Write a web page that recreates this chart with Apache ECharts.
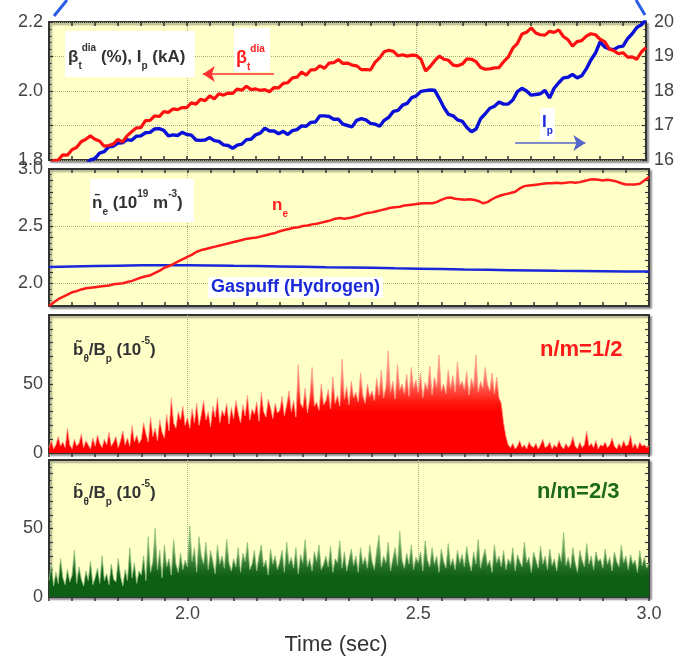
<!DOCTYPE html>
<html><head><meta charset="utf-8">
<script src="https://cdn.jsdelivr.net/npm/echarts@6/dist/echarts.min.js"></script>
<style>html,body{margin:0;padding:0;background:#fff}#c{width:677px;height:658px}</style>
</head><body><div id="c"></div><script>
// ---- data (time in s) ----
const T0 = 1.70;
const DT_LINE = 0.01;
const DT_NOISE = 0.005;
const DT_GAS = 0.05;
const IP_T0 = 1.76;
const xTickLabels = ['2.0', '2.5', '3.0'];
const xGridValues = [2.0, 2.5];
const neGridValues = [2.0, 2.5];

// beta_t^dia (%) , 1.70..3.00 every 0.01 s
const betaDia = [
 1.785,1.798,1.800,1.815,1.814,1.830,1.836,1.853,1.860,1.870,
 1.860,1.855,1.840,1.842,1.846,1.860,1.852,1.870,1.882,1.893,
 1.894,1.914,1.915,1.928,1.926,1.940,1.938,1.948,1.946,1.952,
 1.952,1.966,1.962,1.976,1.972,1.986,1.977,1.992,1.988,1.994,
 1.993,2.006,2.002,2.014,2.004,2.006,2.002,2.004,1.998,2.010,
 2.009,2.022,2.024,2.038,2.040,2.055,2.046,2.061,2.062,2.073,
 2.066,2.081,2.082,2.091,2.080,2.081,2.075,2.073,2.062,2.062,
 2.061,2.083,2.096,2.114,2.118,2.115,2.102,2.105,2.101,2.104,
 2.103,2.092,2.058,2.071,2.088,2.101,2.092,2.089,2.075,2.073,
 2.078,2.093,2.092,2.085,2.068,2.063,2.064,2.067,2.068,2.085,
 2.098,2.124,2.138,2.165,2.170,2.183,2.168,2.163,2.162,2.173,
 2.170,2.177,2.158,2.149,2.130,2.143,2.146,2.159,2.166,2.163,
 2.150,2.143,2.122,2.117,2.108,2.111,2.098,2.099,2.092,2.113,
 2.126];

// I_p (kA), 1.76..3.00 every 0.01 s
const plasmaCurrent = [
 15.70,15.82,15.88,16.00,
 16.04,16.20,16.24,16.38,16.40,16.49,16.50,16.59,16.57,16.69,
 16.70,16.79,16.80,16.90,16.91,16.86,16.70,16.73,16.71,16.80,
 16.74,16.72,16.58,16.57,16.58,16.65,16.56,16.54,16.44,16.42,
 16.34,16.43,16.46,16.59,16.60,16.73,16.78,16.92,16.84,16.84,
 16.76,16.83,16.74,16.85,16.88,16.99,16.98,17.09,17.10,17.28,
 17.28,17.26,17.18,17.18,17.04,17.00,16.96,17.15,17.20,17.16,
 17.06,17.04,16.98,17.15,17.24,17.41,17.44,17.59,17.64,17.81,
 17.86,17.99,18.01,18.03,18.02,17.78,17.52,17.32,17.28,17.16,
 17.12,16.94,16.82,16.90,17.20,17.34,17.50,17.56,17.68,17.62,
 17.62,17.74,17.98,18.08,18.00,17.88,17.90,17.92,18.02,17.80,
 18.08,18.24,18.38,18.40,18.48,18.38,18.44,18.64,18.90,19.10,
 19.42,19.28,19.22,19.20,19.28,19.30,19.52,19.66,19.84,19.92,
 20.06];

// line-averaged density (10^19 m^-3), 1.70..3.00 every 0.01 s
const neBar = [
 1.80,1.83,1.86,1.88,1.90,1.92,1.93,1.945,1.955,1.96,
 1.965,1.97,1.975,1.98,1.99,1.995,2.00,2.01,2.02,2.035,
 2.05,2.06,2.07,2.09,2.11,2.135,2.15,2.17,2.19,2.21,
 2.23,2.25,2.275,2.29,2.30,2.31,2.32,2.33,2.34,2.35,
 2.36,2.37,2.38,2.39,2.395,2.40,2.41,2.42,2.43,2.44,
 2.455,2.465,2.475,2.485,2.49,2.50,2.505,2.515,2.52,2.53,
 2.54,2.55,2.565,2.57,2.565,2.57,2.58,2.59,2.605,2.615,
 2.62,2.63,2.64,2.65,2.66,2.665,2.67,2.68,2.685,2.69,
 2.695,2.70,2.70,2.70,2.71,2.73,2.745,2.75,2.74,2.735,
 2.73,2.735,2.73,2.72,2.70,2.71,2.735,2.755,2.77,2.78,
 2.79,2.80,2.83,2.85,2.855,2.86,2.865,2.87,2.875,2.875,
 2.88,2.875,2.88,2.885,2.88,2.885,2.895,2.905,2.91,2.905,
 2.90,2.905,2.90,2.89,2.875,2.865,2.865,2.865,2.87,2.90,
 2.93];

// gas puff trace (same scale), 1.70..3.00 every 0.05 s
const gasPuff = [2.142,2.146,2.150,2.153,2.156,2.158,2.157,2.155,2.152,2.150,
 2.147,2.144,2.140,2.137,2.134,2.130,2.127,2.124,2.120,2.117,2.114,2.111,2.108,2.106,2.104,2.102,2.102];

// b_theta/B_p (1e-5), n/m=1/2, 1.700..3.000 every 0.005 s
const bTheta12 = [
 4,9,3,6,12,5,8,4,18,6,3,10,5,7,14,4,9,6,3,11,
 5,13,7,4,10,6,15,5,8,12,4,9,16,6,11,5,20,8,13,7,
 10,22,14,8,26,12,18,9,24,15,11,28,16,40,22,18,30,24,34,20,
 26,18,32,22,36,20,28,38,24,30,19,34,26,40,22,31,27,36,21,33,
 25,38,29,22,35,27,42,24,32,28,37,23,44,30,26,39,33,25,36,29,
 31,41,27,35,45,30,38,26,64,36,33,47,29,40,62,34,37,31,50,35,
 38,46,32,55,36,42,34,68,39,48,35,52,40,44,37,58,42,36,50,41,
 45,38,54,42,60,40,48,74,44,52,39,64,46,50,43,57,41,62,47,53,
 44,58,40,51,46,63,42,55,48,71,45,50,43,60,47,56,44,66,49,52,
 46,59,42,54,48,71,44,52,47,62,50,45,58,43,55,40,36,22,12,6,
 4,7,3,5,9,4,6,3,8,5,4,7,3,6,10,4,5,8,3,6,
 4,9,5,3,7,4,6,12,5,3,8,4,6,16,5,7,4,9,3,6,
 5,8,4,6,11,5,3,7,4,9,5,6,13,4,7,3,8,5,6,4,
 5];

// b_theta/B_p (1e-5), n/m=2/3, 1.700..3.000 every 0.005 s
const bTheta23 = [
 12,24,8,18,10,28,14,9,20,11,16,34,10,22,13,8,19,12,26,9,
 14,21,10,30,12,17,9,24,13,11,28,15,8,20,12,36,14,25,10,19,
 16,30,12,44,18,26,50,20,34,14,38,22,28,16,42,24,18,32,20,27,
 22,52,26,36,18,44,30,24,40,20,34,26,17,38,24,30,21,42,25,19,
 28,22,36,18,32,26,40,20,24,34,19,30,38,22,27,16,35,24,30,20,
 26,34,18,40,24,29,21,36,17,31,25,42,22,28,19,33,26,38,20,24,
 30,22,37,18,28,25,41,21,33,19,27,35,23,30,18,36,24,29,21,38,
 26,20,34,45,22,30,25,40,19,28,36,23,48,27,21,32,24,38,20,29,
 25,33,19,41,27,22,36,24,30,18,35,26,21,39,23,28,20,34,25,31,
 22,37,26,19,33,24,42,21,29,35,23,27,18,38,25,30,22,34,20,28,
 24,36,19,31,26,22,40,25,29,18,33,27,21,37,24,30,20,35,23,28,
 19,32,26,47,23,29,21,36,25,18,34,27,22,39,24,30,20,33,26,28,
 21,35,24,29,19,33,26,22,38,25,30,20,31,24,27,18,34,23,29,21,
 25];

// ---- chart ----
function pairs(t0, dt, vals) { return vals.map((v, i) => [Math.round((t0 + i * dt) * 10000) / 10000, v]); }
const FONT = '"Liberation Sans", Arial, Helvetica, sans-serif';
const gridLine = { type: 'dotted', color: '#a7b07a', width: 1 };
const panelBoxes = [[22, 138], [169, 137], [315, 138], [460, 137]];
const grids = panelBoxes.map(([top, h]) => ({
  left: 49, width: 600, top: top, height: h, show: true, backgroundColor: '#ffffc8',
  borderColor: '#333', borderWidth: 2, shadowColor: 'rgba(0,0,0,0.35)', shadowBlur: 2, shadowOffsetX: 2, shadowOffsetY: 2
}));
const labelStyle = { color: '#444', fontSize: 18, fontFamily: FONT };
const xAxes = [];
for (let g = 0; g < 4; g++) {
  for (const pos of ['bottom', 'top']) {
    const main = (g === 3 && pos === 'bottom');
    xAxes.push({
      type: 'value', gridIndex: g, position: pos, min: 1.7, max: 3.0, interval: 0.05,
      axisLine: { show: false }, splitLine: { show: false },
      axisTick: { show: true, inside: true, length: 4, lineStyle: { color: '#333', width: 1.5 } },
      axisLabel: Object.assign({ show: main, margin: 8, formatter: v => { const s = v.toFixed(1); return (xTickLabels.includes(s) && Math.abs(v - parseFloat(s)) < 1e-6) ? s : ''; } }, labelStyle),
      name: main ? 'Time (sec)' : '', nameLocation: 'middle', nameGap: 37,
      nameTextStyle: { fontSize: 22, color: '#333', fontFamily: FONT, padding: [0, 26, 0, 0] }
    });
  }
}
// helper axes that only carry the dotted grid lines (indices 8..11)
for (let g = 0; g < 4; g++) {
  xAxes.push({ type: 'value', gridIndex: g, position: 'bottom', min: 1.7, max: 3.0,
    axisLine: { show: false }, axisLabel: { show: false },
    axisTick: { show: false, customValues: xGridValues },
    splitLine: { show: true, lineStyle: gridLine } });
}
function yAx(g, pos, min, max, interval, labels, dec, minorSplit, split) {
  return {
    type: 'value', gridIndex: g, position: pos, min: min, max: max, interval: interval,
    axisLine: { show: false },
    splitLine: { show: !!split, lineStyle: gridLine },
    axisTick: { show: true, inside: true, length: 4, lineStyle: { color: '#333', width: 1.2 } },
    minorTick: { show: true, splitNumber: minorSplit, length: 2.5, lineStyle: { color: '#333', width: 1 } },
    axisLabel: Object.assign({ show: !!labels, margin: pos === 'left' ? 6 : 8,
      formatter: v => (labels && labels.some(l => Math.abs(l - v) < 1e-6)) ? v.toFixed(dec) : '' }, labelStyle)
  };
}
const yAxes = [
  yAx(0, 'left', 1.8, 2.2, 0.1, [1.8, 2.0, 2.2], 1, 5, true),
  yAx(0, 'right', 16, 20, 1, [16, 17, 18, 19, 20], 0, 5, false),
  yAx(1, 'left', 1.8, 3.0, 0.1, [2.0, 2.5, 3.0], 1, 2, false),
  yAx(1, 'right', 1.8, 3.0, 0.1, null, 1, 2, false),
  yAx(2, 'left', 0, 100, 10, [0, 50], 0, 2, false),
  yAx(2, 'right', 0, 100, 10, null, 0, 2, false),
  yAx(3, 'left', 0, 100, 10, [0, 50], 0, 2, false),
  yAx(3, 'right', 0, 100, 10, null, 0, 2, false),
  { type: 'value', gridIndex: 1, position: 'left', min: 1.8, max: 3.0,
    axisLine: { show: false }, axisLabel: { show: false },
    axisTick: { show: false, customValues: neGridValues },
    splitLine: { show: true, lineStyle: gridLine } }
];
function vgrad(stops) {
  return new echarts.graphic.LinearGradient(0, 0, 0, 1, stops.map(([o, c]) => ({ offset: o, color: c })));
}
const series = [
  { type: 'line', xAxisIndex: 0, yAxisIndex: 0, data: pairs(T0, DT_LINE, betaDia), showSymbol: false, z: 4,
    lineStyle: { color: '#ff1010', width: 3.2 },
    markLine: { silent: true, symbol: ['none', 'arrow'], symbolSize: 12, animation: false, label: { show: false },
      lineStyle: { color: '#ff3030', width: 1.5, type: 'solid' },
      data: [[{ coord: [2.19, 2.049] }, { coord: [2.035, 2.049] }]] } },
  { type: 'line', xAxisIndex: 0, yAxisIndex: 1, data: pairs(IP_T0, DT_LINE, plasmaCurrent), showSymbol: false, z: 3,
    lineStyle: { color: '#0a10d8', width: 3.4 },
    markLine: { silent: true, symbol: ['none', 'arrow'], symbolSize: 12, animation: false, label: { show: false },
      lineStyle: { color: '#5566cc', width: 1.5, type: 'solid' },
      data: [[{ coord: [2.715, 16.49] }, { coord: [2.868, 16.49] }]] } },
  { type: 'line', xAxisIndex: 2, yAxisIndex: 2, data: pairs(T0, DT_LINE, neBar), showSymbol: false, z: 4,
    lineStyle: { color: '#ff1a1a', width: 2.5 } },
  { type: 'line', xAxisIndex: 2, yAxisIndex: 2, data: pairs(T0, DT_GAS, gasPuff), showSymbol: false, z: 3,
    lineStyle: { color: '#1a2ad8', width: 2.5 } },
  { type: 'line', xAxisIndex: 4, yAxisIndex: 4, data: pairs(T0, DT_NOISE, bTheta12), showSymbol: false, z: 3,
    lineStyle: { color: '#ff9a88', width: 0.8 },
    areaStyle: { opacity: 1, color: vgrad([[0, '#ffb0a0'], [0.3, '#ff7060'], [0.5, '#ff1a10'], [0.6, '#ff0000'], [1, '#ff0000']]) } },
  { type: 'line', xAxisIndex: 6, yAxisIndex: 6, data: pairs(T0, DT_NOISE, bTheta23), showSymbol: false, z: 3,
    lineStyle: { color: '#8fbf7e', width: 0.8 },
    areaStyle: { opacity: 1, color: vgrad([[0, '#a8cc90'], [0.35, '#5f9a50'], [0.62, '#1d6a22'], [0.72, '#0f5e16'], [1, '#0f5e16']]) } }
];

function rich(color, size) {
  return {
    m: { fill: color, fontSize: size, fontWeight: 'bold', fontFamily: FONT, lineHeight: 28, verticalAlign: 'middle' },
    s: { fill: color, fontSize: 10, fontWeight: 'bold', fontFamily: FONT, lineHeight: 12, verticalAlign: 'bottom' },
    p: { fill: color, fontSize: 10, fontWeight: 'bold', fontFamily: FONT, lineHeight: 12, verticalAlign: 'top' }
  };
}
const DARK = '#333';
const graphic = [
  { type: 'line', shape: { x1: 54, y1: 16, x2: 67, y2: 0 }, style: { stroke: '#2a5ee8', lineWidth: 3 } },
  { type: 'line', shape: { x1: 636, y1: 0, x2: 645, y2: 15 }, style: { stroke: '#2a5ee8', lineWidth: 3 } },
  { type: 'rect', shape: { x: 65, y: 31, width: 130, height: 46 }, style: { fill: '#fff' }, z: 50 },
  { type: 'text', x: 68, y: 43, z: 51, style: { text: '{m|β}{s|t}{p|dia}{m| (%), I}{s|p}{m| (kA)}', rich: rich(DARK, 17) } },
  { type: 'rect', shape: { x: 234, y: 28, width: 36, height: 44 }, style: { fill: '#fff' }, z: 50 },
  { type: 'text', x: 236, y: 44, z: 51, style: { text: '{m|β}{s|t}{p|dia}', rich: rich('#ff2020', 18) } },
  { type: 'rect', shape: { x: 540, y: 108, width: 15, height: 32 }, style: { fill: '#fff' }, z: 50 },
  { type: 'text', x: 542, y: 108, z: 51, style: { text: '{m|I}{s|p}', rich: rich('#1a2ad8', 17) } },
  { type: 'rect', shape: { x: 90, y: 179, width: 104, height: 43 }, style: { fill: '#fff' }, z: 50 },
  { type: 'text', x: 92, y: 189, z: 51, style: { text: '{m|n\u0304}{s|e}{m| (10}{p|19}{m| m}{p|-3}{m|)}', rich: rich(DARK, 17) } },
  { type: 'text', x: 272, y: 191, z: 51, style: { text: '{m|n}{s|e}', rich: rich('#ff2020', 17) } },
  { type: 'rect', shape: { x: 208, y: 277, width: 175, height: 21 }, style: { fill: '#fff' }, z: 50 },
  { type: 'text', x: 211, y: 287, z: 51, style: { text: 'Gaspuff (Hydrogen)', fill: '#1a2ad8', font: 'bold 18px ' + FONT, verticalAlign: 'middle' } },
  { type: 'text', x: 73, y: 336, z: 51, style: { text: '{m|b\u0303}{s|θ}{m|/B}{s|p}{m| (10}{p|-5}{m|)}', rich: rich(DARK, 17) } },
  { type: 'text', x: 540, y: 350, z: 51, style: { text: 'n/m=1/2', fill: '#ff1a1a', font: 'bold 22px ' + FONT, verticalAlign: 'middle' } },
  { type: 'text', x: 73, y: 479, z: 51, style: { text: '{m|b\u0303}{s|θ}{m|/B}{s|p}{m| (10}{p|-5}{m|)}', rich: rich(DARK, 17) } },
  { type: 'text', x: 537, y: 492, z: 51, style: { text: 'n/m=2/3', fill: '#1d6a1d', font: 'bold 22px ' + FONT, verticalAlign: 'middle' } }
];

const chart = echarts.init(document.getElementById('c'), null, { renderer: 'canvas' });
chart.setOption({
  animation: false, backgroundColor: '#fff',
  grid: grids, xAxis: xAxes, yAxis: yAxes, series: series, graphic: graphic
});
</script></body></html>
